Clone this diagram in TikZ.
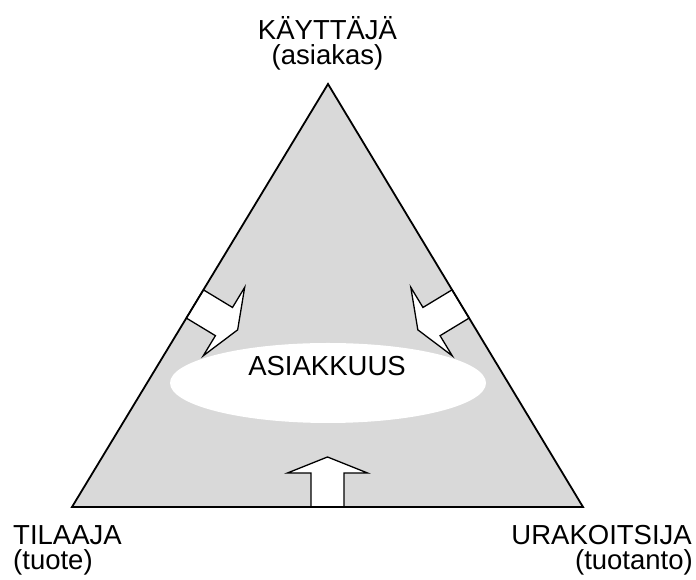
\documentclass[tikz,border=0pt]{standalone}
\usepackage{fontspec}
\setmainfont{Liberation Sans}
\usetikzlibrary{calc,shapes.geometric}
\definecolor{trigray}{RGB}{217,217,217}
\tikzset{
  lbl/.style={inner sep=0pt, font=\fontsize{27.5}{25}\selectfont},
  blockarrow/.style={fill=white, draw=black, line width=1.3pt, line join=miter},
  triedge/.style={draw=black, line width=1.8pt, line join=miter},
}
\newcommand{\blockarr}[2]{%
  \begin{scope}[shift={#1}, rotate=#2]
    \path[blockarrow] (0,16.5) -- (34,16.5) -- (34,40) -- (50,0) -- (34,-40) -- (34,-16.5) -- (0,-16.5) -- cycle;
  \end{scope}}
\begin{document}
\begin{tikzpicture}[x=1pt,y=1pt]
\useasboundingbox (0,0) rectangle (696,580);
\coordinate (A) at (328,496);
\coordinate (B) at (72,73);
\coordinate (C) at (583,73);
\fill[trigray] (A) -- (B) -- (C) -- cycle;
\node[ellipse, fill=white, minimum width=316pt, minimum height=80pt, inner sep=0pt] (E) at (328,197) {};
\node[lbl, anchor=base] (asiak) at (327,204) {ASIAKKUUS};
\blockarr{($(B)!0.48!(A)$)}{-31.2}
\blockarr{($(C)!0.48!(A)$)}{211.2}
\blockarr{($(B)!0.5!(C)$)}{90}
\draw[triedge] (A) -- (B) -- (C) -- cycle;
\node[lbl, anchor=base] (kay) at (327.5,540) {KÄYTTÄJÄ};
\node[lbl, anchor=base] (kay2) at (327.5,515) {(asiakas)};
\node[lbl, anchor=base west] (til) at (13,35.5) {TILAAJA};
\node[lbl, anchor=base west] (til2) at (13,10) {(tuote)};
\node[lbl, anchor=base east] (ura) at (692,35.5) {URAKOITSIJA};
\node[lbl, anchor=base east] (ura2) at (693,10) {(tuotanto)};
\end{tikzpicture}
\end{document}
